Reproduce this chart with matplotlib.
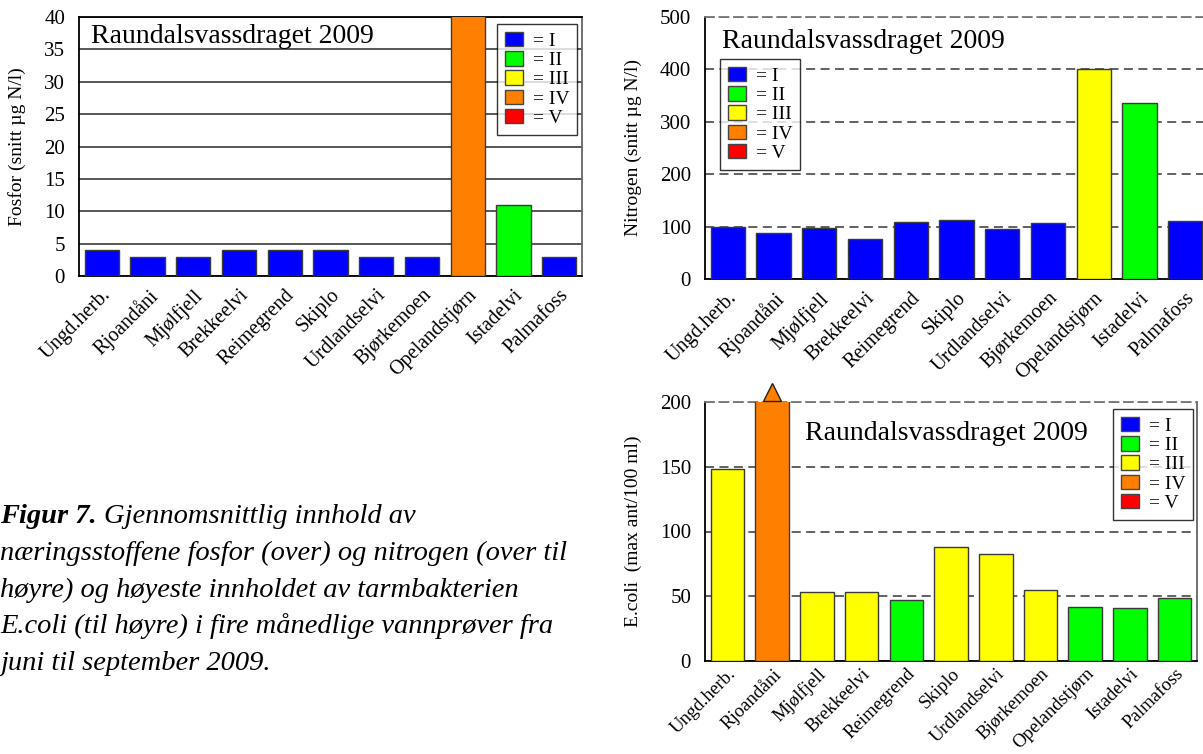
import matplotlib
matplotlib.use('Agg')
import matplotlib.pyplot as plt
from matplotlib.patches import Patch
from matplotlib import transforms
import numpy as np

plt.rcParams['font.family'] = ['Liberation Serif', 'DejaVu Serif']

# stasjoner og målinger, Raundalsvassdraget 2009
stations = ['Ungd.herb.', 'Rjoandåni', 'Mjølfjell', 'Brekkeelvi', 'Reimegrend',
            'Skiplo', 'Urdlandselvi', 'Bjørkemoen', 'Opelandstjørn',
            'Istadelvi', 'Palmafoss']
fosfor = [4, 3, 3, 4, 4, 4, 3, 3, 45, 11, 3]
fosfor_class = ['I', 'I', 'I', 'I', 'I', 'I', 'I', 'I', 'IV', 'II', 'I']
nitrogen = [100, 88, 98, 76, 109, 113, 96, 107, 401, 336, 111]
nitrogen_class = ['I', 'I', 'I', 'I', 'I', 'I', 'I', 'I', 'III', 'II', 'I']
ecoli = [148, 240, 53, 53, 47, 88, 83, 55, 42, 41, 49]
ecoli_class = ['III', 'IV', 'III', 'III', 'II', 'III', 'III', 'III', 'II', 'II', 'II']

classes = ['I', 'II', 'III', 'IV', 'V']
class_colors = {'I': '#0000FF', 'II': '#00FF00', 'III': '#FFFF00',
                'IV': '#FF8000', 'V': '#FF0000'}

caption_lines = [
    'næringsstoffene fosfor (over) og nitrogen (over til',
    'høyre) og høyeste innholdet av tarmbakterien',
    'E.coli (til høyre) i fire månedlige vannprøver fra',
    'juni til september 2009.',
]

W, H = 1203, 754
fig = plt.figure(figsize=(W / 100, H / 100), dpi=100)


def axes_px(l, t, r, b):
    return fig.add_axes([l / W, 1 - b / H, (r - l) / W, (b - t) / H])


def bar_panel(ax, values, cls, ymax, ystep, ylabel, dashed, title_xy, leg_xy,
              xfont=14.5, xpad=7):
    x = np.arange(len(stations))
    ax.bar(x, values, width=0.75, color=[class_colors[c] for c in cls],
           edgecolor='#3a3a3a', linewidth=1.0, zorder=3)
    ax.set_xlim(-0.5, len(stations) - 0.5)
    ax.set_ylim(0, ymax)
    ax.set_yticks(np.arange(0, ymax + 1, ystep))
    ax.set_xticks(x)
    ax.set_xticklabels(stations, rotation=45, ha='right', va='top',
                       rotation_mode='anchor', fontsize=xfont)
    ax.tick_params(axis='both', length=0)
    ax.tick_params(axis='y', pad=10, labelsize=15)
    ax.tick_params(axis='x', pad=xpad)
    ax.set_ylabel(ylabel, fontsize=14, labelpad=13)
    if dashed:
        ax.yaxis.grid(True, color='#555555', linestyle=(0, (5, 3)),
                      linewidth=1.3, zorder=1)
        ax.spines['top'].set_color('#777777')
        ax.spines['top'].set_linestyle((0, (5, 3)))
        ax.spines['top'].set_linewidth(1.3)
    else:
        ax.yaxis.grid(True, color='#3a3a3a', linestyle='-',
                      linewidth=1.2, zorder=1)
        ax.spines['top'].set_linewidth(1.3)
    ax.spines['left'].set_linewidth(1.3)
    ax.spines['bottom'].set_linewidth(1.3)
    ax.spines['right'].set_color('#666666')
    ax.spines['right'].set_linewidth(1.3)

    ax.text(title_xy[0] / W, 1 - title_xy[1] / H, 'Raundalsvassdraget 2009',
            transform=fig.transFigure, fontsize=20, ha='left',
            va='baseline', zorder=5)

    handles = [Patch(facecolor=class_colors[c], edgecolor='#444444',
                     linewidth=1.0, label='= ' + c) for c in classes]
    leg = ax.legend(handles=handles, loc='upper left',
                    bbox_to_anchor=(leg_xy[0] / W, 1 - leg_xy[1] / H),
                    bbox_transform=fig.transFigure, borderaxespad=0,
                    fontsize=14, frameon=True, fancybox=False,
                    handlelength=0.95, handleheight=0.78, handletextpad=0.5,
                    labelspacing=0.06, borderpad=0.4)
    leg.get_frame().set_edgecolor('black')
    leg.get_frame().set_linewidth(1.0)
    leg.set_zorder(6)
    return ax


ax1 = axes_px(79, 17, 582, 276)
bar_panel(ax1, fosfor, fosfor_class, 40, 5, 'Fosfor (snitt µg N/l)',
          False, (91, 43), (497, 24))

ax2 = axes_px(705, 17, 1208, 279)
bar_panel(ax2, nitrogen, nitrogen_class, 500, 100, 'Nitrogen (snitt µg N/l)',
          True, (722, 48), (720, 59))
ax2.spines['right'].set_visible(False)

ax3 = axes_px(705, 402, 1197, 661)
bar_panel(ax3, ecoli, ecoli_class, 200, 50, 'E.coli  (max ant/100 ml)',
          True, (805, 440), (1113, 409), xfont=13.5, xpad=3)

# trekant over søylen som går utenfor skalaen
over = [i for i, v in enumerate(ecoli) if v > 200]
up = transforms.offset_copy(ax3.transData, fig=fig, x=0, y=10, units='dots')
ax3.plot(over, [200] * len(over), marker='^', markersize=13,
         markerfacecolor=class_colors['IV'], markeredgecolor='#222222',
         linestyle='none', transform=up, clip_on=False, zorder=7)

# figurtekst
cap_size = 20.5
y0 = 1 - 523 / H
t1 = fig.text(0, y0, 'Figur 7.', fontsize=cap_size, fontweight='bold',
              fontstyle='italic', ha='left', va='baseline')
fig.canvas.draw()
bb = t1.get_window_extent(renderer=fig.canvas.get_renderer())
fig.text(bb.x1 / W + 7 / W, y0, 'Gjennomsnittlig innhold av', fontsize=cap_size,
         fontstyle='italic', ha='left', va='baseline')
for i, line in enumerate(caption_lines):
    fig.text(0, 1 - (560 + 36.7 * i) / H, line, fontsize=cap_size,
             fontstyle='italic', ha='left', va='baseline')

fig.savefig('out.png', dpi=100)
